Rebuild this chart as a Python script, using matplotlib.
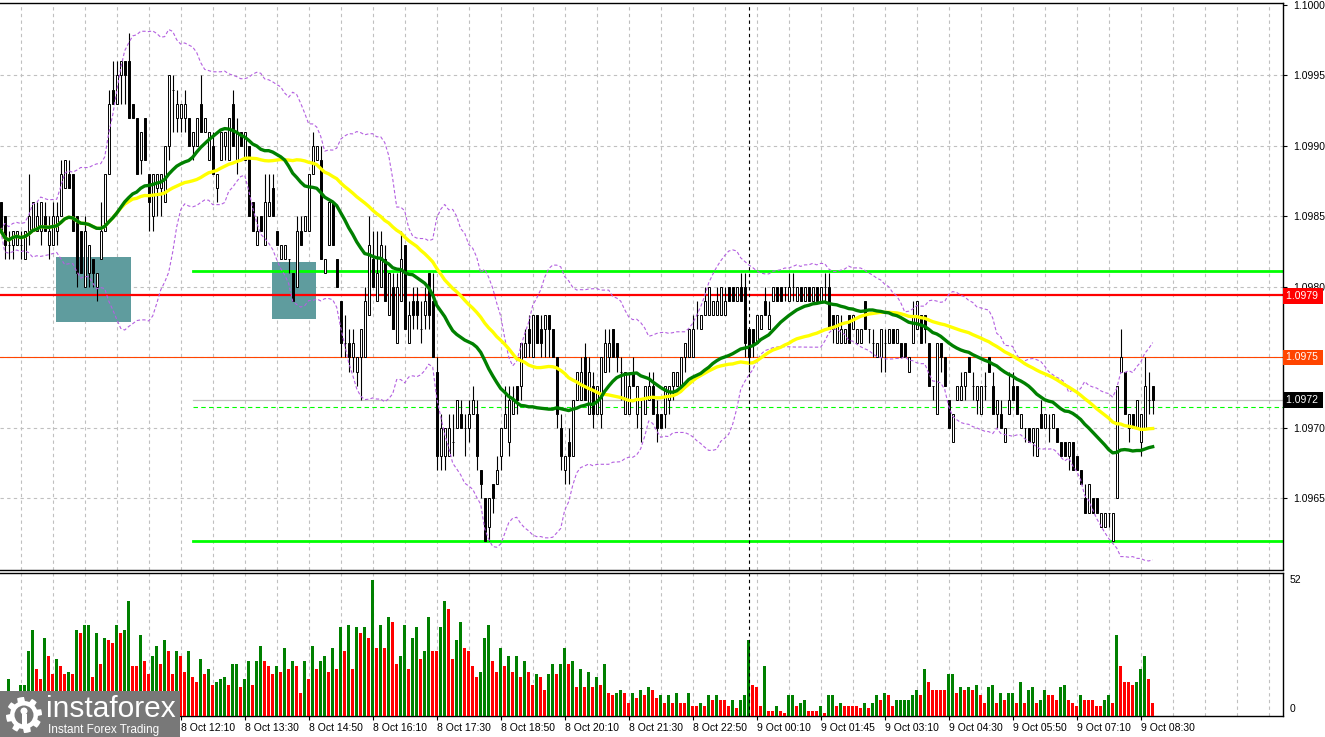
import numpy as np
import pandas as pd
import matplotlib
matplotlib.use('Agg')
import matplotlib.pyplot as plt
from matplotlib.patches import Rectangle, Polygon, Circle
from matplotlib.transforms import IdentityTransform

plt.rcParams['font.family'] = ['Liberation Sans', 'DejaVu Sans']

# EURUSD M5, prices in pips above 1.0900
opens = [
    86, 85, 83, 83, 83, 83, 82, 84, 84, 84, 84, 85, 83, 83, 84, 85, 87, 88, 88, 85,
    84, 80, 81, 82, 80, 82, 84, 88, 94, 93, 95, 96, 96, 93, 92, 89, 92, 88, 85, 87,
    87, 86, 90, 94, 92, 92, 92, 92, 90, 90, 93, 91, 89, 90, 87, 89, 90, 89, 93, 89,
    91, 89, 90, 86, 83, 85, 83, 85, 87, 84, 82, 82, 82, 81, 80, 84, 84, 84, 88, 89,
    89, 81, 83, 86, 82, 79, 76, 76, 75, 74, 75, 75, 78, 82, 79, 80, 82, 78, 80, 76,
    79, 83, 76, 79, 79, 77, 78, 81, 79, 74, 68, 68, 68, 69, 70, 71, 70, 70, 71, 71,
    67, 65, 63, 66, 66, 68, 70, 69, 71, 73, 73, 75, 77, 75, 78, 77, 77, 78, 77, 75,
    70, 67, 69, 68, 72, 72, 75, 71, 73, 71, 71, 74, 75, 77, 76, 74, 71, 71, 74, 71,
    70, 71, 72, 73, 71, 71, 71, 72, 73, 73, 73, 75, 75, 75, 78, 77, 78, 78, 78, 78,
    78, 78, 80, 80, 79, 80, 80, 77, 77, 76, 77, 79, 77, 79, 80, 80, 80, 79, 80, 79,
    80, 79, 80, 79, 80, 79, 80, 80, 78, 76, 76, 76, 78, 77, 76, 76, 79, 77, 76, 75,
    75, 76, 76, 77, 76, 76, 76, 74, 76, 77, 78, 78, 76, 73, 71, 76, 75, 72, 69, 72,
    72, 73, 75, 73, 72, 71, 73, 75, 73, 71, 71, 69, 71, 73, 73, 70, 70, 70, 69, 68,
    71, 70, 70, 70, 70, 69, 69, 68, 69, 68, 67, 65, 64, 65, 65, 63, 63, 64, 62, 65,
    74, 74, 70, 71, 70, 69, 70, 72, 73]
closes = [
    84, 83, 83, 84, 84, 83, 84, 85, 86, 85, 86, 84, 84, 85, 85, 88, 89, 87, 84, 81,
    81, 84, 83, 81, 81, 84, 88, 93, 93, 95, 96, 95, 92, 92, 88, 91, 89, 86, 88, 88,
    88, 90, 95, 94, 93, 93, 93, 90, 91, 92, 91, 92, 91, 88, 88, 91, 91, 92, 90, 91,
    90, 91, 85, 84, 84, 84, 86, 86, 85, 83, 83, 83, 82, 79, 84, 83, 85, 88, 90, 90,
    82, 82, 86, 83, 80, 76, 76, 75, 76, 75, 77, 79, 83, 80, 81, 83, 79, 81, 77, 80,
    82, 77, 78, 78, 78, 77, 79, 78, 75, 68, 70, 70, 70, 69, 72, 70, 70, 71, 72, 68,
    66, 62, 65, 65, 67, 70, 71, 72, 72, 72, 76, 76, 76, 78, 76, 76, 78, 77, 75, 71,
    68, 68, 68, 72, 74, 74, 72, 74, 71, 73, 75, 76, 76, 75, 75, 74, 74, 73, 73, 73,
    70, 73, 73, 71, 70, 70, 73, 73, 74, 74, 75, 76, 77, 77, 78, 78, 79, 80, 79, 79,
    80, 79, 79, 79, 80, 79, 76, 75, 76, 78, 78, 78, 78, 80, 79, 79, 80, 80, 80, 80,
    79, 80, 79, 80, 79, 80, 80, 77, 77, 78, 77, 77, 76, 78, 77, 77, 77, 77, 76, 76,
    77, 76, 77, 76, 77, 75, 75, 75, 78, 79, 76, 77, 73, 73, 76, 75, 73, 70, 71, 73,
    73, 74, 74, 73, 73, 73, 73, 74, 71, 72, 70, 70, 72, 72, 71, 71, 70, 69, 70, 70,
    70, 71, 70, 71, 69, 68, 68, 69, 67, 67, 66, 64, 66, 64, 64, 64, 64, 64, 64, 73,
    75, 71, 71, 70, 72, 71, 73, 72, 72]
highs = [
    86, 85, 84, 84, 84, 84, 84, 88, 86, 86, 86, 86, 85, 86, 86, 89, 89, 89, 88, 85,
    84, 85, 83, 82, 81, 86, 88, 94, 96, 96, 96, 96, 98, 93, 92, 91, 92, 88, 88, 88,
    88, 90, 95, 95, 94, 93, 94, 92, 91, 92, 95, 92, 91, 91, 88, 91, 91, 92, 94, 92,
    91, 91, 90, 86, 85, 85, 88, 88, 88, 84, 83, 83, 82, 81, 85, 85, 85, 88, 91, 90,
    90, 82, 86, 86, 82, 79, 78, 77, 77, 75, 77, 80, 85, 84, 84, 84, 83, 81, 81, 81,
    84, 83, 79, 80, 80, 79, 80, 81, 81, 75, 71, 70, 71, 71, 72, 72, 71, 72, 73, 72,
    67, 65, 65, 66, 68, 70, 73, 73, 73, 73, 76, 77, 78, 78, 78, 78, 78, 78, 77, 75,
    71, 68, 70, 72, 74, 75, 76, 75, 74, 73, 75, 77, 77, 77, 76, 75, 74, 74, 75, 73,
    72, 73, 74, 74, 72, 71, 73, 73, 74, 74, 75, 76, 77, 78, 79, 78, 80, 80, 79, 80,
    80, 80, 80, 80, 80, 81, 81, 77, 77, 78, 78, 80, 79, 80, 80, 80, 80, 81, 81, 80,
    80, 80, 80, 80, 80, 80, 81, 81, 78, 78, 78, 77, 78, 78, 77, 77, 79, 77, 77, 76,
    77, 77, 77, 77, 77, 76, 76, 75, 79, 79, 78, 78, 76, 73, 76, 76, 75, 72, 71, 73,
    74, 74, 75, 74, 73, 73, 74, 75, 74, 72, 72, 70, 74, 74, 73, 71, 70, 70, 70, 70,
    72, 71, 71, 71, 70, 69, 69, 69, 69, 68, 67, 66, 66, 65, 65, 64, 64, 64, 64, 73,
    77, 74, 71, 71, 72, 71, 75, 74, 73]
lows = [
    84, 82, 82, 82, 83, 82, 82, 83, 84, 84, 83, 84, 82, 83, 83, 85, 87, 87, 84, 80,
    81, 80, 80, 80, 79, 82, 84, 88, 93, 93, 93, 93, 92, 92, 88, 88, 89, 84, 84, 85,
    85, 86, 89, 91, 91, 91, 91, 90, 89, 90, 91, 91, 89, 88, 86, 89, 89, 89, 90, 88,
    90, 89, 85, 84, 83, 84, 83, 85, 85, 83, 82, 82, 81, 79, 80, 83, 84, 84, 88, 89,
    82, 81, 83, 83, 80, 75, 75, 74, 74, 73, 72, 75, 78, 80, 79, 80, 79, 78, 77, 76,
    79, 77, 76, 77, 77, 76, 77, 77, 75, 67, 67, 67, 68, 68, 70, 70, 68, 69, 71, 67,
    65, 62, 62, 64, 66, 67, 70, 68, 71, 71, 72, 75, 75, 75, 76, 75, 75, 75, 75, 70,
    67, 66, 66, 68, 72, 72, 72, 71, 70, 71, 70, 74, 74, 75, 74, 72, 71, 71, 73, 70,
    69, 71, 72, 71, 69, 70, 70, 71, 72, 73, 73, 74, 75, 75, 77, 77, 78, 78, 78, 78,
    78, 78, 79, 79, 79, 79, 75, 74, 75, 76, 77, 78, 77, 79, 79, 79, 79, 79, 79, 79,
    79, 79, 79, 79, 79, 79, 79, 77, 76, 76, 76, 76, 76, 77, 76, 76, 77, 76, 75, 75,
    74, 74, 76, 76, 76, 75, 75, 74, 76, 77, 76, 76, 73, 72, 71, 74, 73, 70, 69, 72,
    72, 72, 74, 72, 71, 71, 72, 74, 71, 70, 70, 69, 71, 72, 71, 70, 69, 69, 68, 68,
    70, 70, 69, 70, 69, 68, 68, 67, 67, 67, 66, 64, 64, 64, 64, 63, 63, 63, 62, 65,
    74, 71, 69, 70, 70, 68, 70, 71, 71]
volumes = [
    9, 7, 14, 8, 7, 12, 12, 25, 33, 18, 14, 30, 23, 16, 22, 19, 16, 17, 16, 33,
    32, 35, 35, 15, 32, 20, 30, 29, 28, 35, 32, 33, 44, 19, 19, 31, 21, 16, 23, 27,
    20, 29, 25, 16, 25, 23, 17, 25, 15, 13, 22, 16, 18, 12, 13, 14, 15, 12, 20, 20,
    11, 14, 21, 12, 21, 27, 21, 19, 16, 19, 17, 26, 18, 21, 19, 9, 21, 14, 27, 18,
    21, 23, 17, 26, 18, 34, 25, 35, 18, 34, 32, 34, 30, 52, 26, 35, 26, 38, 36, 20,
    23, 35, 18, 30, 34, 22, 25, 38, 25, 25, 34, 44, 41, 22, 29, 36, 26, 25, 19, 15,
    17, 30, 35, 21, 17, 26, 19, 23, 17, 23, 15, 21, 17, 12, 16, 15, 10, 16, 20, 16,
    20, 26, 20, 21, 11, 18, 11, 17, 11, 15, 12, 20, 9, 8, 9, 10, 9, 5, 9, 7,
    10, 8, 11, 10, 7, 8, 5, 8, 5, 9, 5, 5, 9, 4, 4, 5, 4, 8, 6, 8,
    6, 6, 4, 6, 3, 6, 8, 29, 12, 11, 4, 19, 2, 2, 4, 2, 1, 8, 8, 4,
    5, 6, 2, 2, 2, 4, 1, 8, 8, 4, 5, 4, 4, 4, 4, 3, 5, 3, 5, 8,
    6, 9, 8, 4, 6, 6, 6, 6, 8, 10, 8, 18, 13, 10, 10, 10, 10, 16, 16, 9,
    11, 10, 11, 10, 12, 8, 5, 11, 12, 5, 9, 6, 9, 9, 5, 13, 5, 10, 11, 5,
    6, 10, 8, 8, 6, 11, 12, 6, 5, 4, 8, 6, 6, 6, 4, 4, 6, 8, 5, 31,
    19, 13, 13, 12, 13, 18, 23, 14, 5]

time_ticks = [45, 61, 77, 93, 109, 125, 141, 157, 173, 189, 205, 221, 237, 253, 269, 285]
time_labels = ['8 Oct 12:10', '8 Oct 13:30', '8 Oct 14:50', '8 Oct 16:10', '8 Oct 17:30',
               '8 Oct 18:50', '8 Oct 20:10', '8 Oct 21:30', '8 Oct 22:50', '9 Oct 00:10',
               '9 Oct 01:45', '9 Oct 03:10', '9 Oct 04:30', '9 Oct 05:50', '9 Oct 07:10',
               '9 Oct 08:30']
price_ticks = [1.0965, 1.0970, 1.0975, 1.0980, 1.0985, 1.0990, 1.0995, 1.1000]

# levels drawn on the chart
support_resist = [1.09811, 1.09620]
red_level = 1.09794
orange_level = 1.0975
bid, ask = 1.0972, 1.09715
zones = [(13.8, 32.6, 1.09775, 1.09821), (67.8, 78.8, 1.09777, 1.09818)]
separator = 187

n = len(closes)
assert len(opens) == n and len(highs) == n and len(lows) == n and len(volumes) == n
o = 1.09 + np.array(opens) / 10000
c = 1.09 + np.array(closes) / 10000
h = 1.09 + np.maximum(np.array(highs), np.maximum(opens, closes)) / 10000
l = 1.09 + np.minimum(np.array(lows), np.minimum(opens, closes)) / 10000
x = np.arange(n)

cs = pd.Series(c)
ma_fast = cs.rolling(30, min_periods=1).mean()
ma_slow = cs.rolling(50, min_periods=1).mean()
bb_mid = cs.rolling(20, min_periods=1).mean()
bb_sd = cs.rolling(20, min_periods=1).std(ddof=0).fillna(0)

W, H = 1325, 737
fig = plt.figure(figsize=(W / 100, H / 100), dpi=100)
ax = fig.add_axes([0, 1 - 569.5 / H, 1283 / W, (569.5 - 3) / H])
axv = fig.add_axes([0, 1 - 716 / H, 1283 / W, (716 - 572.5) / H])

xlim = (-0.175, 320.575)
grid_kw = dict(color='#c0c0c0', lw=0.8, ls=(0, (3, 3)), zorder=0)
for a in (ax, axv):
    a.set_xlim(*xlim)
    for k in range(5, 321, 8):
        a.axvline(k, **grid_kw)
    a.axvline(separator, color='black', lw=0.8, ls=(0, (3, 3)), zorder=5)
    a.spines['left'].set_visible(False)
    for s in ('top', 'right', 'bottom'):
        a.spines[s].set_linewidth(1.0)

ax.set_ylim(1.095996, 1.100014)
for p in price_ticks[:-1]:
    ax.axhline(p, **grid_kw)

for x0, x1, lo, hi in zones:
    ax.add_patch(Rectangle((x0, lo), x1 - x0, hi - lo, fc='#5f9c9e', ec='none', zorder=1))

ax.axhline(red_level, color='#ff0000', lw=1.6, zorder=2)
ax.axhline(orange_level, color='#ff4500', lw=0.8, zorder=2)
for lv in support_resist:
    ax.plot([48, xlim[1]], [lv, lv], color='#00ff00', lw=2.0, zorder=2)
ax.plot([48, xlim[1]], [bid, bid], color='#c0c0c0', lw=0.9, zorder=2)
ax.plot([48, xlim[1]], [ask, ask], color='#00ff00', lw=0.8, ls=(0, (4, 3)), zorder=2)

# candles
ax.vlines(x, l, h, color='black', lw=0.8, zorder=3)
bw = 0.55
for i in range(n):
    lo_b, hi_b = min(o[i], c[i]), max(o[i], c[i])
    fc = 'white' if c[i] > o[i] else 'black'
    ax.add_patch(Rectangle((i - bw / 2, lo_b), bw, hi_b - lo_b, fc=fc, ec='black', lw=0.7, zorder=3))

ax.plot(x, bb_mid + 2 * bb_sd, color='#b460e0', lw=0.8, ls=(0, (3, 2)), zorder=4)
ax.plot(x, bb_mid - 2 * bb_sd, color='#b460e0', lw=0.8, ls=(0, (3, 2)), zorder=4)
ax.plot(x, ma_slow, color='#ffff00', lw=2.4, zorder=4)
ax.plot(x, ma_fast, color='#008000', lw=2.4, zorder=4)

# the 1.0975 level has its own coloured marker on the scale
ax.yaxis.tick_right()
ax.set_yticks(price_ticks)
ax.set_yticklabels(['' if p == orange_level else f'{p:.4f}' for p in price_ticks])
ax.tick_params(axis='y', length=3, width=0.8, pad=4, labelsize=7.5)
ax.set_xticks([])

# volumes, green when rising, red when falling
vcol = []
for i, v in enumerate(volumes):
    if i == 0 or v > volumes[i - 1]:
        vcol.append('#008000')
    elif v < volumes[i - 1]:
        vcol.append('#ff0000')
    else:
        vcol.append(vcol[-1])
axv.bar(x, volumes, width=0.62, color=vcol, zorder=3)
axv.set_ylim(0, 55)
axv.set_yticks([])
axv.set_xticks(time_ticks)
axv.set_xticklabels(time_labels)
for t in axv.get_xticklabels():
    t.set_ha('left')
axv.tick_params(axis='x', length=3, width=0.8, pad=2, labelsize=7.5)

def ft(xp, yp, s, **kw):
    fig.text(xp / W, 1 - yp / H, s, va='center', ha='left', **kw)

ft(1290, 580, '52', fontsize=7.5)
ft(1290, 709, '0', fontsize=7.5)
ft(1286, 296, '1.0979 ', fontsize=7.5, color='white',
   bbox=dict(boxstyle='square,pad=0.25', fc='#ff0000', ec='none'))
ft(1286, 357.5, '1.0975 ', fontsize=7.5, color='white',
   bbox=dict(boxstyle='square,pad=0.25', fc='#ff4500', ec='none'))
ft(1286, 400, '1.0972 ', fontsize=7.5, color='white',
   bbox=dict(boxstyle='square,pad=0.25', fc='black', ec='none'))

# instaforex logo
tr = IdentityTransform()
fig.patches.append(Rectangle((0, 0), 180, H - 691, transform=tr, fc='#787878', ec='none', zorder=20))
cx, cy = 24, H - 715
ang = np.linspace(0, 2 * np.pi, 97)
rad = np.where((np.floor(ang / (2 * np.pi / 16)) % 2) == 0, 18, 14)
fig.patches.append(Polygon(np.c_[cx + rad * np.cos(ang), cy + rad * np.sin(ang)], closed=True,
                           transform=tr, fc='white', ec='none', zorder=21))
fig.patches.append(Circle((cx, cy), 9.5, transform=tr, fc='#787878', ec='none', zorder=22))
fig.patches.append(Circle((cx, cy + 4), 3.5, transform=tr, fc='white', ec='none', zorder=23))
fig.patches.append(Rectangle((cx - 2.5, cy - 10), 5, 11, transform=tr, fc='white', ec='none', zorder=23))
fig.text(46 / W, 1 - 709 / H, 'instaforex', color='white', fontsize=21.5, va='center', ha='left', zorder=24)
fig.text(48 / W, 1 - 730 / H, 'Instant Forex Trading', color='white', fontsize=8.5, va='center', ha='left', zorder=24)

fig.savefig('out.png', dpi=100)
